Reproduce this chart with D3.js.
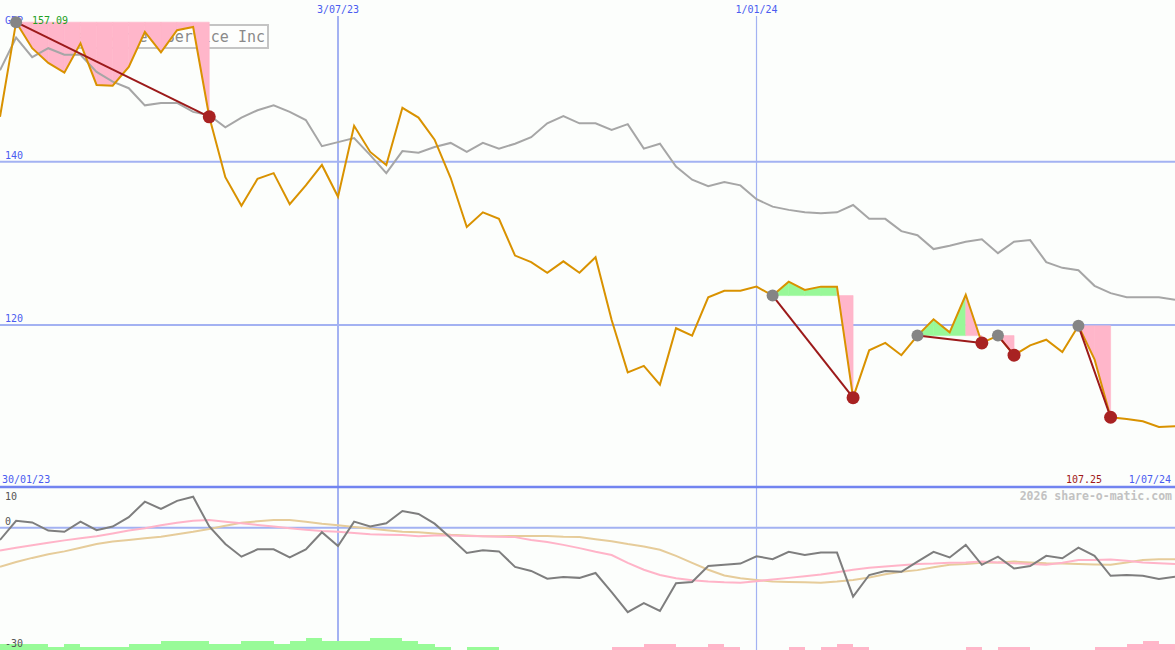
<!DOCTYPE html>
<html><head><meta charset="utf-8">
<script src="https://cdn.jsdelivr.net/npm/d3@7"></script>
<style>html,body{margin:0;padding:0;background:#fcfefc;} svg{display:block;}</style>
</head><body><svg id="c" width="1175" height="650"></svg>
<script>
// ---------- data ----------
const startDate = "2023-02-06";           // first weekly point
const price = [145.5,157.09,153.9,152.1,150.9,154.5,149.4,149.3,151.6,155.9,
  153.4,156.1,156.5,145.5,138.1,134.6,137.9,138.6,134.8,137.1,
  139.6,135.7,144.4,141.2,139.6,146.6,145.4,142.7,138.0,132.0,
  133.8,133.0,128.5,127.7,126.4,127.8,126.4,128.3,120.6,114.2,
  115.0,112.7,119.6,118.7,123.4,124.2,124.2,124.7,123.6,125.3,
  124.3,124.7,124.7,111.1,116.9,117.8,116.3,118.7,120.7,119.1,
  123.7,117.8,118.7,116.3,117.5,118.2,116.7,119.9,115.8,108.7,
  108.5,108.2,107.5,107.6];
const compare = [151.2,155.2,152.8,153.9,153.1,153.1,151.0,149.8,149.0,146.9,
  147.2,147.2,146.1,145.7,144.2,145.4,146.3,146.9,146.1,145.1,
  141.9,142.4,142.9,140.8,138.6,141.3,141.1,141.8,142.3,141.2,
  142.3,141.6,142.2,143.0,144.7,145.6,144.7,144.7,143.9,144.6,
  141.6,142.2,139.4,137.8,137.0,137.5,137.1,135.4,134.5,134.1,
  133.8,133.7,133.8,134.7,133.0,133.0,131.5,131.0,129.3,129.7,
  130.2,130.5,128.8,130.2,130.4,127.7,127.0,126.7,124.8,123.9,
  123.4,123.4,123.4,123.1];
const momentum = [-3.0,1.7,1.3,-0.7,-1.0,1.5,-0.6,0.3,2.6,6.4,
  4.6,6.6,7.6,0.3,-4.0,-7.1,-5.3,-5.3,-7.3,-5.3,
  -1.1,-4.5,1.5,0.3,1.1,4.1,3.4,1.0,-2.5,-6.2,
  -5.5,-5.8,-9.6,-10.6,-12.5,-12.1,-12.3,-11.1,-15.8,-20.7,
  -18.5,-20.4,-13.6,-13.3,-9.4,-9.1,-8.8,-7.0,-7.7,-5.9,
  -6.7,-6.1,-6.1,-16.9,-11.6,-10.6,-10.8,-8.3,-5.9,-7.3,
  -4.2,-9.1,-7.1,-10.0,-9.4,-6.9,-7.5,-4.9,-6.9,-11.8,
  -11.6,-11.8,-12.6,-12.0];
const pinkAvg = [-5.6,-4.9,-4.3,-3.7,-3.1,-2.6,-2.1,-1.4,-0.7,-0.1,
  0.6,1.2,1.7,1.9,1.5,1.1,0.7,0.3,-0.1,-0.5,
  -0.8,-1.0,-1.3,-1.6,-1.7,-1.8,-2.1,-1.9,-1.9,-2.0,
  -2.1,-2.2,-2.3,-3.0,-3.5,-4.2,-5.0,-5.9,-6.7,-8.6,
  -10.3,-11.6,-12.4,-12.9,-13.2,-13.4,-13.5,-13.1,-12.7,-12.3,
  -11.9,-11.5,-10.9,-10.3,-9.8,-9.5,-9.2,-8.9,-8.8,-8.6,
  -8.5,-8.3,-8.5,-8.7,-8.9,-9.1,-8.6,-7.9,-7.9,-7.8,
  -8.1,-8.5,-8.7,-8.9];
const tanAvg = [-9.6,-8.4,-7.4,-6.5,-5.8,-4.9,-4.0,-3.4,-3.0,-2.6,
  -2.2,-1.6,-1.0,-0.3,0.5,1.2,1.6,1.9,1.9,1.5,
  1.0,0.6,0.2,-0.2,-0.6,-1.0,-1.1,-1.4,-1.7,-1.9,
  -2.1,-2.1,-2.0,-2.0,-2.0,-2.2,-2.3,-2.8,-3.3,-4.0,
  -4.6,-5.4,-6.9,-8.6,-10.3,-11.7,-12.4,-12.8,-13.2,-13.3,
  -13.4,-13.5,-13.2,-12.8,-12.2,-11.4,-10.8,-10.4,-9.7,-9.1,
  -8.9,-8.6,-8.5,-8.3,-8.5,-8.7,-8.8,-8.9,-9.0,-9.1,
  -8.5,-7.9,-7.7,-7.7];
const histogram = [2,2,2,1,2,1,1,1,2,2,
  3,3,3,2,2,3,3,2,3,4,
  3,3,3,4,4,3,2,1,0,1,
  1,0,0,0,0,0,0,0,-1,-1,
  -2,-2,-1,-1,-2,-1,0,0,0,-1,
  0,-1,-2,-1,0,0,0,0,0,0,
  -1,0,-1,-1,0,0,0,0,-1,-1,
  -2,-3,-2,-2];
const entries = [1,48,57,62,67];
const exits   = [13,53,61,63,69];
const priceTicks = [120,140];
const lowerTicks = [10,0,-30];
const dateTicks = ["2023-07-03","2024-01-01"];
const title = "United Parcel Service Inc";
const currency = "GBP";
const topValue = "157.09";
const lowValue = "107.25";
const startLabel = "30/01/23";
const endLabel = "1/07/24";
const credit = "2026 share-o-matic.com";

// ---------- setup ----------
const W = 1175, H = 650;
const svg = d3.select("#c");
const parse = d3.utcParse("%Y-%m-%d");
const d0 = parse(startDate);
const dates = price.map((_, i) => d3.utcDay.offset(d0, 7 * i));
const x = d3.scaleUtc().domain([dates[0], dates[dates.length - 1]]).range([0, W]);
const y = d3.scaleLinear().domain([120, 140]).range([325, 161.7]);
const yl = d3.scaleLinear().domain([-30, 10]).range([650, 487]);
const hScale = d3.scaleLinear().domain([0, 4]).range([0, 12]);
const fmt = d3.utcFormat("%-d/%m/%y");
const mono = "'DejaVu Sans Mono', 'Liberation Mono', monospace";
const grid = "#a3b2f2", blue = "#4a5cf0";

svg.append("rect").attr("width", W).attr("height", H).attr("fill", "#fcfefc");

// gridlines
const g = svg.append("g");
g.selectAll("line.h").data(priceTicks).join("line")
  .attr("x1", 0).attr("x2", W).attr("y1", d => y(d)).attr("y2", d => y(d))
  .attr("stroke", grid).attr("stroke-width", 2);
g.append("line").attr("x1", 0).attr("x2", W).attr("y1", yl(0)).attr("y2", yl(0))
  .attr("stroke", grid).attr("stroke-width", 2);
const vW = [2, 1.2];
g.selectAll("line.v").data(dateTicks.map(parse)).join("line")
  .attr("x1", d => x(d)).attr("x2", d => x(d)).attr("y1", 16).attr("y2", H)
  .attr("stroke", grid).attr("stroke-width", (d, i) => vW[i]);
g.append("line").attr("x1", 0).attr("x2", W).attr("y1", yl(10)).attr("y2", yl(10))
  .attr("stroke", "#7284f0").attr("stroke-width", 2.5);

// title box (drawn under the trade shading, as in the original)
svg.append("rect").attr("x", 40).attr("y", 25).attr("width", 228).attr("height", 23)
  .attr("fill", "#fdfefd").attr("stroke", "#c4c4c4").attr("stroke-width", 2);
svg.append("text").attr("x", 265).attr("y", 42)
  .attr("text-anchor", "end").attr("font-family", mono).attr("font-size", 15)
  .attr("fill", "#8a8a8a").text(title);

// trade shading
const area = d3.area().x(d => d.x).y0(d => d.b).y1(d => d.y);
const segs = [];
entries.forEach((e, t) => {
  const base = price[e];
  for (let k = e; k < exits[t]; k++) {
    segs.push({
      pts: [{x: x(dates[k]), y: y(price[k]), b: y(base)},
            {x: x(dates[k + 1]), y: y(price[k + 1]), b: y(base)}],
      up: price[k + 1] >= base
    });
  }
});
svg.append("g").selectAll("path").data(segs).join("path")
  .attr("d", d => area(d.pts))
  .attr("fill", d => d.up ? "#98f898" : "#ffb6ca")
  .attr("stroke", d => d.up ? "#98f898" : "#ffb6ca").attr("stroke-width", 0.6);

// main lines
const line = d3.line().x((d, i) => x(dates[i])).y(d => y(d));
svg.append("path").attr("d", line(compare)).attr("fill", "none")
  .attr("stroke", "#a6a6a6").attr("stroke-width", 2);
svg.append("path").attr("d", line(price)).attr("fill", "none")
  .attr("stroke", "#d99200").attr("stroke-width", 2);

// lower panel
const hb = svg.append("g");
hb.selectAll("rect").data(histogram).join("rect")
  .attr("x", (d, i) => x(dates[i]))
  .attr("width", (d, i) => i < dates.length - 1 ? x(dates[i + 1]) - x(dates[i]) : 16)
  .attr("y", d => H - hScale(Math.abs(d)))
  .attr("height", d => hScale(Math.abs(d)))
  .attr("fill", d => d >= 0 ? "#98fb98" : "#ffb6c9")
  .attr("shape-rendering", "crispEdges");
const lline = d3.line().x((d, i) => x(dates[i])).y(d => yl(d));
svg.append("path").attr("d", lline(tanAvg)).attr("fill", "none")
  .attr("stroke", "#e6cc9a").attr("stroke-width", 2);
svg.append("path").attr("d", lline(pinkAvg)).attr("fill", "none")
  .attr("stroke", "#ffb4c8").attr("stroke-width", 2);
svg.append("path").attr("d", lline(momentum)).attr("fill", "none")
  .attr("stroke", "#7e7e7e").attr("stroke-width", 2);

// labels
const txt = (s, xx, yy, col, anchor, size, weight) => svg.append("text")
  .attr("x", xx).attr("y", yy).attr("fill", col).attr("text-anchor", anchor || "start")
  .attr("font-family", mono).attr("font-size", size || 10)
  .attr("font-weight", weight || "normal").text(s);
priceTicks.forEach(v => txt(v, 5, y(v) - 3, blue));
lowerTicks.forEach(v => txt(v, 5, Math.max(yl(v) - 3, yl(10) + 13), "#555"));
dateTicks.map(parse).forEach(d => txt(fmt(d), x(d), 13, blue, "middle"));
txt(currency, 5, 24, blue);
txt(topValue, 32, 24, "#22a022");
txt(startLabel, 2, 483, blue);
txt(endLabel, 1171, 483, blue, "end");
txt(lowValue, 1102, 483, "#a01818", "end");
txt(credit, 1172, 500, "#c2c2c2", "end", 11.5, "bold");

// trade lines and markers
const tg = svg.append("g");
entries.forEach((e, t) => {
  tg.append("line").attr("x1", x(dates[e])).attr("y1", y(price[e]))
    .attr("x2", x(dates[exits[t]])).attr("y2", y(price[exits[t]]))
    .attr("stroke", "#9c1a1a").attr("stroke-width", 2);
});
tg.selectAll("circle.in").data(entries).join("circle")
  .attr("cx", i => x(dates[i])).attr("cy", i => y(price[i])).attr("r", 6)
  .attr("fill", "#858585");
tg.selectAll("circle.out").data(exits).join("circle").attr("class", "out")
  .attr("cx", i => x(dates[i])).attr("cy", i => y(price[i])).attr("r", 6.5)
  .attr("fill", "#a82222");
</script></body></html>
